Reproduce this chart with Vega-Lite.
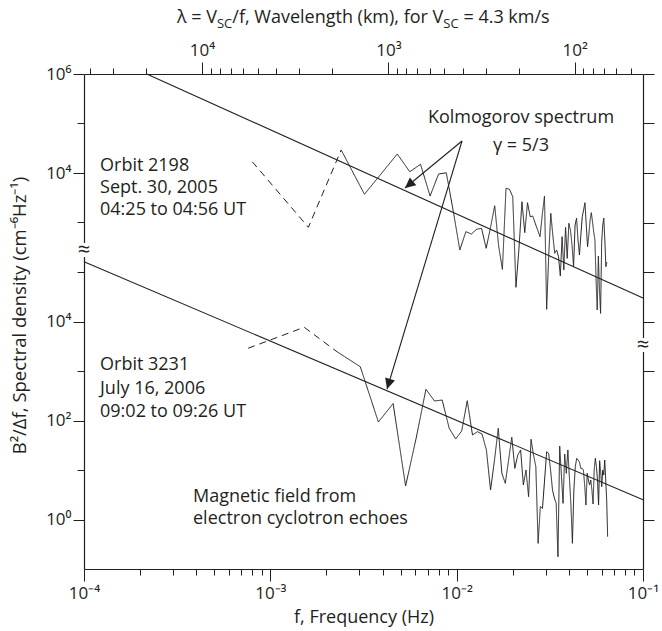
{
  "$schema": "https://vega.github.io/schema/vega-lite/v6.json",
  "width": 559,
  "height": 495,
  "autosize": "none",
  "padding": {"left": 84, "top": 74, "right": 19, "bottom": 62},
  "background": "white",
  "config": {
    "view": {"stroke": null},
    "font": "Open Sans",
    "axis": {
      "domainColor": "#231f20", "domainWidth": 1.2,
      "tickColor": "#231f20", "tickWidth": 1,
      "labelColor": "#231f20", "titleColor": "#231f20",
      "labelFont": "Open Sans", "titleFont": "Open Sans",
      "labelFontSize": 17, "titleFontSize": 18, "titleFontWeight": "normal",
      "grid": false, "labelOverlap": false, "labelBound": false, "labelFlush": false
    },
    "text": {"font": "Open Sans", "fontSize": 18, "fill": "#231f20"}
  },
  "datasets": {
    "upper": [
      {"f": 0.0008, "v": 16900, "seg": "dashed"},
      {"f": 0.0016, "v": 800, "seg": "dashed"},
      {"f": 0.0024, "v": 29200, "seg": "dashed"},
      {"f": 0.0024, "v": 29200, "seg": "solid"},
      {"f": 0.0032, "v": 3720, "seg": "solid"},
      {"f": 0.0048, "v": 24200, "seg": "solid"},
      {"f": 0.0056, "v": 10600, "seg": "solid"},
      {"f": 0.0064, "v": 15000, "seg": "solid"},
      {"f": 0.0072, "v": 3430, "seg": "solid"},
      {"f": 0.008, "v": 9550, "seg": "solid"},
      {"f": 0.0088, "v": 10100, "seg": "solid"},
      {"f": 0.0096, "v": 1650, "seg": "solid"},
      {"f": 0.0104, "v": 278, "seg": "solid"},
      {"f": 0.0112, "v": 652, "seg": "solid"},
      {"f": 0.012, "v": 586, "seg": "solid"},
      {"f": 0.0128, "v": 729, "seg": "solid"},
      {"f": 0.0136, "v": 764, "seg": "solid"},
      {"f": 0.0144, "v": 301, "seg": "solid"},
      {"f": 0.0152, "v": 800, "seg": "solid"},
      {"f": 0.016, "v": 2180, "seg": "solid"},
      {"f": 0.0168, "v": 335, "seg": "solid"},
      {"f": 0.0176, "v": 113, "seg": "solid"},
      {"f": 0.0184, "v": 4910, "seg": "solid"},
      {"f": 0.0192, "v": 4690, "seg": "solid"},
      {"f": 0.02, "v": 3320, "seg": "solid"},
      {"f": 0.0208, "v": 49.1, "seg": "solid"},
      {"f": 0.0216, "v": 301, "seg": "solid"},
      {"f": 0.0224, "v": 2630, "seg": "solid"},
      {"f": 0.0232, "v": 622, "seg": "solid"},
      {"f": 0.024, "v": 2510, "seg": "solid"},
      {"f": 0.0248, "v": 1310, "seg": "solid"},
      {"f": 0.0256, "v": 1350, "seg": "solid"},
      {"f": 0.0264, "v": 964, "seg": "solid"},
      {"f": 0.0272, "v": 705, "seg": "solid"},
      {"f": 0.028, "v": 516, "seg": "solid"},
      {"f": 0.0288, "v": 1420, "seg": "solid"},
      {"f": 0.0296, "v": 3430, "seg": "solid"},
      {"f": 0.0304, "v": 17.6, "seg": "solid"},
      {"f": 0.0312, "v": 220, "seg": "solid"},
      {"f": 0.032, "v": 1530, "seg": "solid"},
      {"f": 0.0328, "v": 559, "seg": "solid"},
      {"f": 0.0336, "v": 239, "seg": "solid"},
      {"f": 0.0344, "v": 278, "seg": "solid"},
      {"f": 0.0352, "v": 204, "seg": "solid"},
      {"f": 0.036, "v": 83, "seg": "solid"},
      {"f": 0.0368, "v": 516, "seg": "solid"},
      {"f": 0.0376, "v": 110, "seg": "solid"},
      {"f": 0.0384, "v": 800, "seg": "solid"},
      {"f": 0.0392, "v": 189, "seg": "solid"},
      {"f": 0.04, "v": 964, "seg": "solid"},
      {"f": 0.0408, "v": 705, "seg": "solid"},
      {"f": 0.0416, "v": 351, "seg": "solid"},
      {"f": 0.0424, "v": 128, "seg": "solid"},
      {"f": 0.0432, "v": 889, "seg": "solid"},
      {"f": 0.044, "v": 1220, "seg": "solid"},
      {"f": 0.0448, "v": 443, "seg": "solid"},
      {"f": 0.0456, "v": 220, "seg": "solid"},
      {"f": 0.0464, "v": 559, "seg": "solid"},
      {"f": 0.0472, "v": 1310, "seg": "solid"},
      {"f": 0.048, "v": 1790, "seg": "solid"},
      {"f": 0.0488, "v": 2510, "seg": "solid"},
      {"f": 0.0496, "v": 889, "seg": "solid"},
      {"f": 0.0504, "v": 324, "seg": "solid"},
      {"f": 0.0512, "v": 559, "seg": "solid"},
      {"f": 0.052, "v": 1120, "seg": "solid"},
      {"f": 0.0528, "v": 1580, "seg": "solid"},
      {"f": 0.0536, "v": 1020, "seg": "solid"},
      {"f": 0.0544, "v": 643, "seg": "solid"},
      {"f": 0.0552, "v": 443, "seg": "solid"},
      {"f": 0.056, "v": 68.9, "seg": "solid"},
      {"f": 0.0568, "v": 17.1, "seg": "solid"},
      {"f": 0.0576, "v": 210, "seg": "solid"},
      {"f": 0.0584, "v": 43.3, "seg": "solid"},
      {"f": 0.0592, "v": 14.6, "seg": "solid"},
      {"f": 0.06, "v": 391, "seg": "solid"},
      {"f": 0.0608, "v": 889, "seg": "solid"},
      {"f": 0.0616, "v": 1220, "seg": "solid"},
      {"f": 0.0624, "v": 443, "seg": "solid"},
      {"f": 0.0632, "v": 128, "seg": "solid"},
      {"f": 0.064, "v": 159, "seg": "solid"}
    ],
    "lower": [
      {"f": 0.00076, "v": 2880, "seg": "dashed"},
      {"f": 0.00152, "v": 7640, "seg": "dashed"},
      {"f": 0.00228, "v": 2450, "seg": "dashed"},
      {"f": 0.00228, "v": 2450, "seg": "solid"},
      {"f": 0.00304, "v": 1220, "seg": "solid"},
      {"f": 0.0038, "v": 93.3, "seg": "solid"},
      {"f": 0.00456, "v": 220, "seg": "solid"},
      {"f": 0.00532, "v": 4.75, "seg": "solid"},
      {"f": 0.00608, "v": 46.4, "seg": "solid"},
      {"f": 0.00684, "v": 427, "seg": "solid"},
      {"f": 0.0076, "v": 248, "seg": "solid"},
      {"f": 0.00836, "v": 259, "seg": "solid"},
      {"f": 0.00912, "v": 69.5, "seg": "solid"},
      {"f": 0.00988, "v": 42.3, "seg": "solid"},
      {"f": 0.01064, "v": 61.4, "seg": "solid"},
      {"f": 0.0114, "v": 251, "seg": "solid"},
      {"f": 0.01216, "v": 50.9, "seg": "solid"},
      {"f": 0.01292, "v": 59.4, "seg": "solid"},
      {"f": 0.01368, "v": 53.4, "seg": "solid"},
      {"f": 0.01444, "v": 25.4, "seg": "solid"},
      {"f": 0.0152, "v": 3.94, "seg": "solid"},
      {"f": 0.01596, "v": 15.9, "seg": "solid"},
      {"f": 0.01672, "v": 69.5, "seg": "solid"},
      {"f": 0.01748, "v": 8.57, "seg": "solid"},
      {"f": 0.01824, "v": 5.38, "seg": "solid"},
      {"f": 0.019, "v": 15.9, "seg": "solid"},
      {"f": 0.01976, "v": 45.8, "seg": "solid"},
      {"f": 0.02052, "v": 10.8, "seg": "solid"},
      {"f": 0.02128, "v": 20.1, "seg": "solid"},
      {"f": 0.02204, "v": 25.4, "seg": "solid"},
      {"f": 0.0228, "v": 4.98, "seg": "solid"},
      {"f": 0.02356, "v": 10, "seg": "solid"},
      {"f": 0.02432, "v": 2.89, "seg": "solid"},
      {"f": 0.02508, "v": 41.7, "seg": "solid"},
      {"f": 0.02584, "v": 20.1, "seg": "solid"},
      {"f": 0.0266, "v": 11.7, "seg": "solid"},
      {"f": 0.02736, "v": 0.33, "seg": "solid"},
      {"f": 0.02812, "v": 1.82, "seg": "solid"},
      {"f": 0.02888, "v": 1.68, "seg": "solid"},
      {"f": 0.02964, "v": 6.28, "seg": "solid"},
      {"f": 0.0304, "v": 23.4, "seg": "solid"},
      {"f": 0.03116, "v": 21.7, "seg": "solid"},
      {"f": 0.03192, "v": 10, "seg": "solid"},
      {"f": 0.03268, "v": 3.94, "seg": "solid"},
      {"f": 0.03344, "v": 2.72, "seg": "solid"},
      {"f": 0.0342, "v": 2.12, "seg": "solid"},
      {"f": 0.03496, "v": 0.177, "seg": "solid"},
      {"f": 0.03572, "v": 30.5, "seg": "solid"},
      {"f": 0.03648, "v": 7.93, "seg": "solid"},
      {"f": 0.03724, "v": 2.12, "seg": "solid"},
      {"f": 0.038, "v": 21, "seg": "solid"},
      {"f": 0.03876, "v": 8.57, "seg": "solid"},
      {"f": 0.03952, "v": 25.4, "seg": "solid"},
      {"f": 0.04028, "v": 6.89, "seg": "solid"},
      {"f": 0.04104, "v": 1.96, "seg": "solid"},
      {"f": 0.0418, "v": 0.33, "seg": "solid"},
      {"f": 0.04256, "v": 3.94, "seg": "solid"},
      {"f": 0.04332, "v": 11.7, "seg": "solid"},
      {"f": 0.04408, "v": 17.2, "seg": "solid"},
      {"f": 0.04484, "v": 15.9, "seg": "solid"},
      {"f": 0.0456, "v": 14.5, "seg": "solid"},
      {"f": 0.04636, "v": 10.8, "seg": "solid"},
      {"f": 0.04712, "v": 10.8, "seg": "solid"},
      {"f": 0.04788, "v": 10, "seg": "solid"},
      {"f": 0.04864, "v": 4.98, "seg": "solid"},
      {"f": 0.0494, "v": 1.96, "seg": "solid"},
      {"f": 0.05016, "v": 8.57, "seg": "solid"},
      {"f": 0.05092, "v": 6.28, "seg": "solid"},
      {"f": 0.05168, "v": 4.98, "seg": "solid"},
      {"f": 0.05244, "v": 6.28, "seg": "solid"},
      {"f": 0.0532, "v": 3.94, "seg": "solid"},
      {"f": 0.05396, "v": 2.06, "seg": "solid"},
      {"f": 0.05472, "v": 10, "seg": "solid"},
      {"f": 0.05548, "v": 17.2, "seg": "solid"},
      {"f": 0.05624, "v": 11.7, "seg": "solid"},
      {"f": 0.057, "v": 6.28, "seg": "solid"},
      {"f": 0.05776, "v": 1.96, "seg": "solid"},
      {"f": 0.05852, "v": 15.4, "seg": "solid"},
      {"f": 0.05928, "v": 9.12, "seg": "solid"},
      {"f": 0.06004, "v": 4.6, "seg": "solid"},
      {"f": 0.0608, "v": 10, "seg": "solid"},
      {"f": 0.06156, "v": 7.93, "seg": "solid"},
      {"f": 0.06232, "v": 15.9, "seg": "solid"},
      {"f": 0.06308, "v": 6.28, "seg": "solid"},
      {"f": 0.06384, "v": 2.48, "seg": "solid"},
      {"f": 0.0646, "v": 0.45, "seg": "solid"}
    ],
    "kolmoUpper": [{"f": 0.000217, "v": 1000000}, {"f": 0.1, "v": 29.7}],
    "kolmoLower": [{"f": 0.0001, "v": 161000}, {"f": 0.1, "v": 2.51}],
    "arrows": [
      {"f": 0.01068, "v": 44300000, "f2": 0.00528, "v2": 4980000},
      {"f": 0.01068, "v": 44300000, "f2": 0.00423, "v2": 433}
    ],
    "notesLeft": [
      {"f": 0.0001219, "v": 13800000, "label": "Orbit 2198"},
      {"f": 0.0001219, "v": 4980000, "label": "Sept. 30, 2005"},
      {"f": 0.0001219, "v": 1790000, "label": "04:25 to 04:56 UT"},
      {"f": 0.0001219, "v": 1320, "label": "Orbit 3231"},
      {"f": 0.0001219, "v": 440, "label": "July 16, 2006"},
      {"f": 0.0001219, "v": 148, "label": "09:02 to 09:26 UT"},
      {"f": 0.0003846, "v": 2.85, "label": "Magnetic field from"},
      {"f": 0.0003846, "v": 1.02, "label": "electron cyclotron echoes"}
    ],
    "notesCenter": [
      {"f": 0.02214, "v": 129000000, "label": "Kolmogorov spectrum"},
      {"f": 0.02214, "v": 35100000, "label": "γ = 5/3"}
    ],
    "titleMain": [
      {"f": 0.0003155, "v": 10720000000, "label": "λ = V"},
      {"f": 0.000625, "v": 10720000000, "label": "/f, Wavelength (km), for V"},
      {"f": 0.01087, "v": 10720000000, "label": "= 4.3 km/s"}
    ],
    "titleSub": [
      {"f": 0.0005169, "v": 8490000000, "label": "SC"},
      {"f": 0.00848, "v": 8490000000, "label": "SC"}
    ],
    "breakGaps": [
      {"f": 0.0001, "v": 385000, "v2": 201000},
      {"f": 0.1, "v": 4645, "v2": 2421}
    ],
    "breakMarks": [
      {"f": 0.0001, "v": 278000, "label": "≈"},
      {"f": 0.1, "v": 3350, "label": "≈"}
    ]
  },
  "layer": [
    {
      "encoding": {
        "x": {
          "field": "f", "type": "quantitative",
          "scale": {"type": "log", "domain": [0.0001, 0.1], "nice": false},
          "axis": {
            "orient": "bottom",
            "values": [0.0001, 0.0002, 0.0003, 0.0004, 0.0005, 0.0006, 0.0007, 0.0008, 0.0009, 0.001, 0.002, 0.003, 0.004, 0.005, 0.006, 0.007, 0.008, 0.009, 0.01, 0.02, 0.03, 0.04, 0.05, 0.06, 0.07, 0.08, 0.09, 0.1],
            "labelExpr": "datum.value == 0.0001 ? '10⁻⁴' : datum.value == 0.001 ? '10⁻³' : datum.value == 0.01 ? '10⁻²' : datum.value == 0.1 ? '10⁻¹' : ''",
            "tickSize": {"condition": {"test": "datum.value == 0.0001 || datum.value == 0.001 || datum.value == 0.01 || datum.value == 0.1", "value": 12}, "value": 6},
            "labelPadding": 4,
            "title": "f, Frequency (Hz)",
            "titleX": 279.5, "titleY": 48, "titleBaseline": "middle"
          }
        },
        "y": {
          "field": "v", "type": "quantitative",
          "scale": {"type": "log", "domain": [0.1, 1000000000], "nice": false},
          "axis": {
            "orient": "left",
            "values": [1, 10, 100, 1000, 10000, 100000, 1000000, 10000000, 100000000, 1000000000],
            "labelExpr": "datum.value == 1000000000 ? '10⁶' : datum.value == 10000000 ? '10⁴' : datum.value == 10000 ? '10⁴' : datum.value == 100 ? '10²' : datum.value == 1 ? '10⁰' : ''",
            "tickSize": {"condition": {"test": "datum.value == 1000000000 || datum.value == 10000000 || datum.value == 10000 || datum.value == 100 || datum.value == 1", "value": 11}, "value": 7},
            "labelPadding": 2,
            "title": "B²/Δf, Spectral density (cm⁻⁶Hz⁻¹)",
            "titleFontSize": 18.5,
            "titleAngle": -90, "titleX": -65, "titleY": 241, "titleBaseline": "middle", "titleAlign": "center"
          }
        }
      },
      "layer": [
        {
          "data": {"name": "lower"},
          "mark": {"type": "line", "stroke": "#231f20", "strokeWidth": 1},
          "encoding": {
            "strokeDash": {"field": "seg", "type": "nominal", "scale": {"domain": ["solid", "dashed"], "range": [[1, 0], [7, 5]]}, "legend": null}
          }
        },
        {
          "data": {"name": "kolmoLower"},
          "mark": {"type": "line", "stroke": "#231f20", "strokeWidth": 1.1},
          "encoding": {}
        },
        {
          "data": {"name": "arrows"},
          "mark": {"type": "rule", "stroke": "#231f20", "strokeWidth": 1.1},
          "encoding": {"x2": {"field": "f2"}, "y2": {"field": "v2"}}
        },
        {
          "data": {"values": [{"f": 0.00559, "v": 5940000}]},
          "mark": {"type": "point", "shape": "M0,-1L0.85,0.75L-0.85,0.75Z", "size": 144, "filled": true, "fill": "#231f20", "opacity": 1, "strokeWidth": 0, "angle": 230.5}
        },
        {
          "data": {"values": [{"f": 0.00432, "v": 565}]},
          "mark": {"type": "point", "shape": "M0,-1L0.85,0.75L-0.85,0.75Z", "size": 144, "filled": true, "fill": "#231f20", "opacity": 1, "strokeWidth": 0, "angle": 196.8}
        },
        {
          "data": {"name": "notesLeft"},
          "mark": {"type": "text", "align": "left", "baseline": "middle", "fontSize": 18},
          "encoding": {"text": {"field": "label"}}
        },
        {
          "data": {"name": "notesCenter"},
          "mark": {"type": "text", "align": "center", "baseline": "middle", "fontSize": 18},
          "encoding": {"text": {"field": "label"}}
        },
        {
          "data": {"name": "titleMain"},
          "mark": {"type": "text", "align": "left", "baseline": "alphabetic", "fontSize": 18},
          "encoding": {"text": {"field": "label"}}
        },
        {
          "data": {"name": "titleSub"},
          "mark": {"type": "text", "align": "left", "baseline": "alphabetic", "fontSize": 13},
          "encoding": {"text": {"field": "label"}}
        },
        {
          "data": {"name": "breakGaps"},
          "mark": {"type": "rule", "stroke": "white", "strokeWidth": 5},
          "encoding": {"y2": {"field": "v2"}}
        },
        {
          "data": {"name": "breakMarks"},
          "mark": {"type": "text", "align": "center", "baseline": "middle", "fontSize": 22},
          "encoding": {"text": {"field": "label"}}
        }
      ]
    },
    {
      "encoding": {
        "x": {
          "field": "f", "type": "quantitative",
          "scale": {"type": "log", "domain": [0.0001, 0.1], "nice": false},
          "axis": {
            "orient": "top",
            "values": [0.0001075, 0.00014333, 0.000215, 0.00043, 0.00047778, 0.0005375, 0.00061429, 0.00071667, 0.00086, 0.001075, 0.0014333, 0.00215, 0.0043, 0.0047778, 0.005375, 0.0061429, 0.0071667, 0.0086, 0.01075, 0.014333, 0.0215, 0.043, 0.047778, 0.05375, 0.061429, 0.071667, 0.086],
            "labelExpr": "datum.value == 0.00043 ? '10⁴' : datum.value == 0.0043 ? '10³' : datum.value == 0.043 ? '10²' : ''",
            "tickSize": {"condition": {"test": "datum.value == 0.00043 || datum.value == 0.0043 || datum.value == 0.043", "value": 12}, "value": 6},
            "labelPadding": 3,
            "title": null
          }
        },
        "y": {
          "field": "v", "type": "quantitative",
          "scale": {"type": "log", "domain": [0.0001, 1000000], "nice": false},
          "axis": {
            "orient": "right",
            "values": [0.001, 0.01, 0.1, 1, 10, 100, 1000, 10000, 100000, 1000000],
            "labels": false,
            "tickSize": 11,
            "title": null
          }
        }
      },
      "layer": [
        {
          "data": {"name": "upper"},
          "mark": {"type": "line", "stroke": "#231f20", "strokeWidth": 1},
          "encoding": {
            "strokeDash": {"field": "seg", "type": "nominal", "scale": {"domain": ["solid", "dashed"], "range": [[1, 0], [7, 5]]}, "legend": null}
          }
        },
        {
          "data": {"name": "kolmoUpper"},
          "mark": {"type": "line", "stroke": "#231f20", "strokeWidth": 1.1},
          "encoding": {}
        }
      ]
    }
  ],
  "resolve": {"scale": {"y": "independent"}, "axis": {"x": "independent", "y": "independent"}}
}
